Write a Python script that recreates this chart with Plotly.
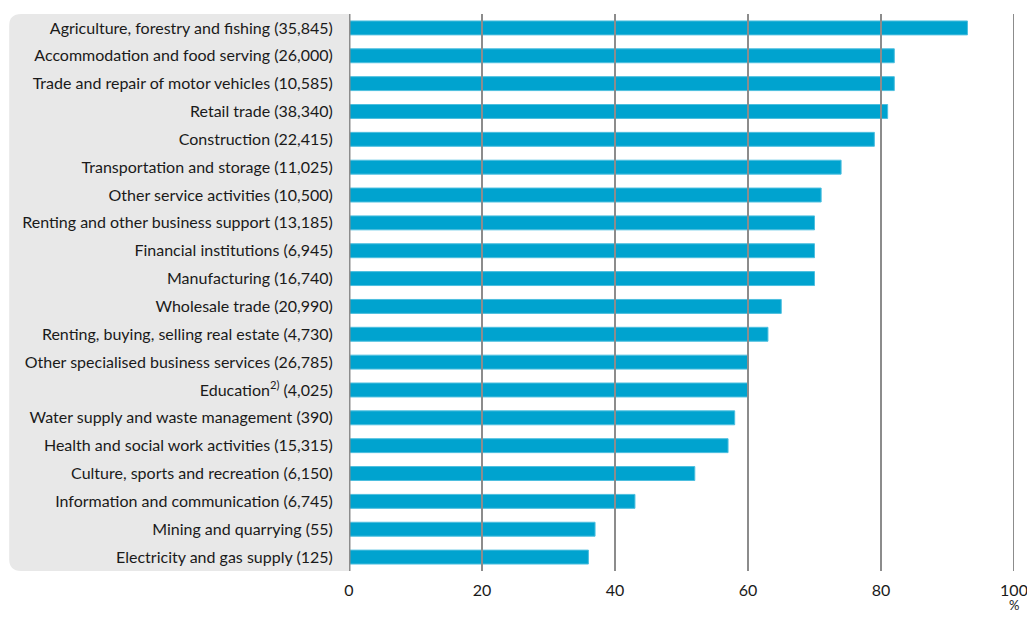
import plotly.graph_objects as go

sectors = [
    "Agriculture, forestry and fishing (35,845)",
    "Accommodation and food serving (26,000)",
    "Trade and repair of motor vehicles (10,585)",
    "Retail trade (38,340)",
    "Construction (22,415)",
    "Transportation and storage (11,025)",
    "Other service activities (10,500)",
    "Renting and other business support (13,185)",
    "Financial institutions (6,945)",
    "Manufacturing (16,740)",
    "Wholesale trade (20,990)",
    "Renting, buying, selling real estate (4,730)",
    "Other specialised business services (26,785)",
    "Education<sup>2)</sup> (4,025)",
    "Water supply and waste management (390)",
    "Health and social work activities (15,315)",
    "Culture, sports and recreation (6,150)",
    "Information and communication (6,745)",
    "Mining and quarrying (55)",
    "Electricity and gas supply (125)",
]
share = [93, 82, 82, 81, 79, 74, 71, 70, 70, 70, 65, 63, 60, 60, 58, 57, 52, 43, 37, 36]
x_ticks = [0, 20, 40, 60, 80, 100]

font = "Lato, 'Open Sans', sans-serif"

fig = go.Figure()
fig.add_trace(go.Bar(
    x=share, y=sectors, orientation="h",
    marker=dict(color="#00a3cf", line=dict(color="#4dbfdf", width=1)),
))

# grey label panel with rounded left corners (paper coords)
rx, ry = 0.018, 0.021
x0 = -0.511
path = (f"M 0,0 L {x0 + rx},0 Q {x0},0 {x0},{ry} L {x0},{1 - ry} "
        f"Q {x0},1 {x0 + rx},1 L 0,1 Z")
fig.add_shape(type="path", path=path, xref="paper", yref="paper",
              fillcolor="#e8e8e8", line=dict(width=0), layer="below")

# gridlines drawn over the bars
for t in x_ticks[1:]:
    fig.add_shape(type="line", x0=t, x1=t, y0=0, y1=1, xref="x", yref="paper",
                  line=dict(color="#8c8c8c", width=2), layer="above")
fig.add_shape(type="line", x0=0, x1=0, y0=0, y1=1, xref="x", yref="paper",
              line=dict(color="#8c8c8c", width=3), layer="above")

fig.add_annotation(text="%", x=100, y=0, xref="x", yref="paper", yshift=-34,
                   yanchor="middle", showarrow=False,
                   font=dict(size=13, color="#1a1a1a", family=font))

fig.update_layout(
    width=1027, height=603,
    margin=dict(l=341, r=21, t=6, b=40),
    plot_bgcolor="white", paper_bgcolor="white",
    showlegend=False, bargap=0.5,
    font=dict(family=font, size=16, color="#1a1a1a"),
    xaxis=dict(range=[0, 100], tickvals=x_ticks, showgrid=False, zeroline=False,
               showline=False, ticks="outside", ticklen=5, tickcolor="rgba(0,0,0,0)",
               tickfont=dict(size=16), automargin=False),
    yaxis=dict(autorange="reversed", showgrid=False, showline=False, ticks="outside",
               ticklen=12, tickcolor="rgba(0,0,0,0)", tickfont=dict(size=16),
               automargin=False),
)

fig.write_html("out.html")
